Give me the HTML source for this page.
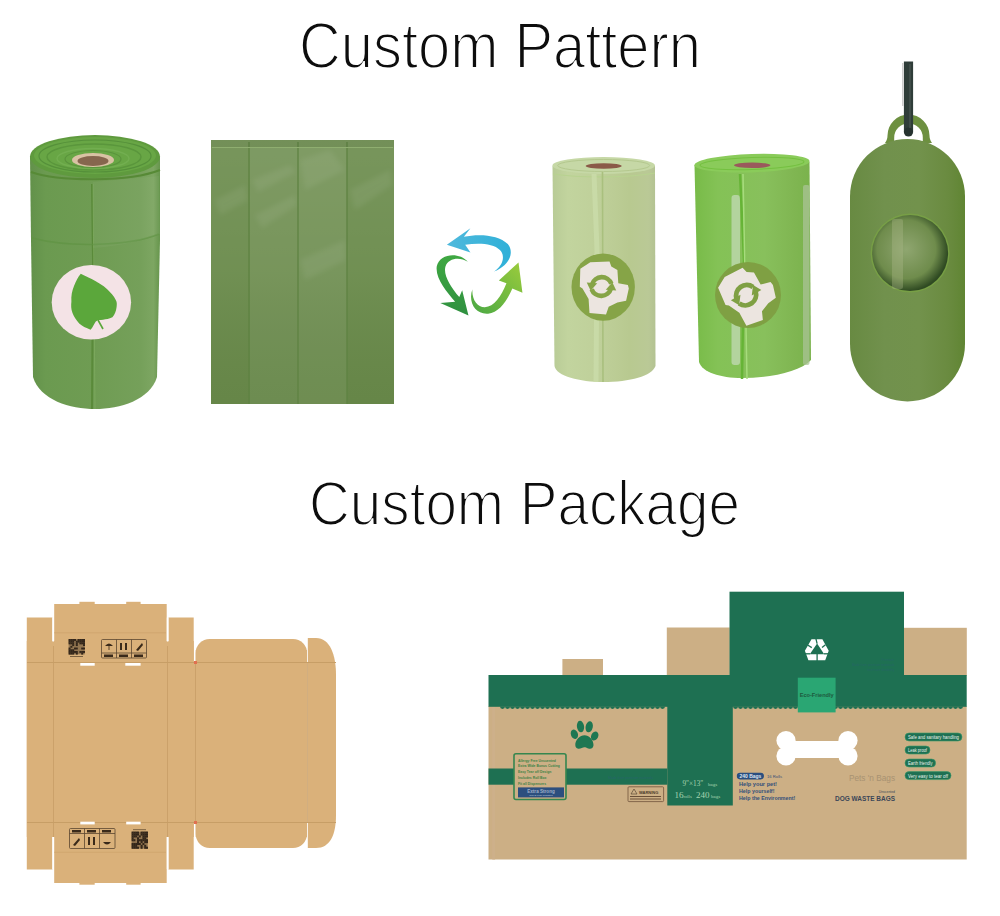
<!DOCTYPE html>
<html><head><meta charset="utf-8">
<style>
html,body{margin:0;padding:0;background:#fff;}
body{width:1000px;height:916px;overflow:hidden;position:relative;font-family:"Liberation Sans",sans-serif;}
svg{position:absolute;left:0;top:0;display:block;}
</style></head>
<body>
<svg width="1000" height="916" viewBox="0 0 1000 916" font-family="Liberation Sans, sans-serif">
<defs>
<linearGradient id="gb" x1="0" y1="0" x2="1" y2="0"><stop offset="0" stop-color="#4fb9dc"/><stop offset="1" stop-color="#2fb0d8"/></linearGradient>
<linearGradient id="gg1" x1="0" y1="0" x2="0" y2="1"><stop offset="0" stop-color="#3fa842"/><stop offset="1" stop-color="#2f9040"/></linearGradient>
<linearGradient id="gg2" x1="0" y1="1" x2="1" y2="0"><stop offset="0" stop-color="#49a844"/><stop offset="1" stop-color="#9ccc3c"/></linearGradient>
<linearGradient id="r1body" x1="0" y1="0" x2="1" y2="0">
<stop offset="0" stop-color="#62914a"/><stop offset="0.12" stop-color="#6b9a50"/><stop offset="0.5" stop-color="#6f9c53"/><stop offset="0.85" stop-color="#75a05a"/><stop offset="0.95" stop-color="#7da662"/><stop offset="1" stop-color="#66954c"/></linearGradient>
<linearGradient id="r2body" x1="0" y1="0" x2="1" y2="0">
<stop offset="0" stop-color="#b8cb96"/><stop offset="0.15" stop-color="#c2d49e"/><stop offset="0.45" stop-color="#bfd09a"/><stop offset="0.75" stop-color="#b8c990"/><stop offset="0.93" stop-color="#bac996"/><stop offset="1" stop-color="#b3c292"/></linearGradient>
<linearGradient id="r3body" x1="0" y1="0" x2="1" y2="0">
<stop offset="0" stop-color="#78bb48"/><stop offset="0.2" stop-color="#84c256"/><stop offset="0.6" stop-color="#88c05c"/><stop offset="0.85" stop-color="#80b652"/><stop offset="1" stop-color="#7ab24c"/></linearGradient>
<linearGradient id="dispg" x1="0" y1="0" x2="1" y2="0">
<stop offset="0" stop-color="#688a42"/><stop offset="0.3" stop-color="#71914d"/><stop offset="0.6" stop-color="#72924c"/><stop offset="0.85" stop-color="#6a8b40"/><stop offset="1" stop-color="#608533"/></linearGradient>
<radialGradient id="wing" cx="0.45" cy="0.45" r="0.55">
<stop offset="0" stop-color="#8fa670"/><stop offset="0.7" stop-color="#6f8c4c"/><stop offset="1" stop-color="#2f4a22"/></radialGradient>
</defs>

<!-- TITLES -->

<g fill="#0d0d0d" stroke="#fff" stroke-width="1.9">
<text x="299" y="68" font-size="64" textLength="402" lengthAdjust="spacingAndGlyphs">Custom Pattern</text>
<text x="309" y="525" font-size="63" textLength="431" lengthAdjust="spacingAndGlyphs">Custom Package</text>
</g>

<!-- ROLL 1 (dark green with leaf) -->
<g id="roll1">
<path d="M30 157 L31 240 L33 377 C40 400 70 409 95 409 C120 409 150 400 157 377 L160 240 L160 157 Z" fill="url(#r1body)"/>
<ellipse cx="95" cy="156.5" rx="65" ry="21.5" fill="#5f9a3e"/>
<ellipse cx="95" cy="155.5" rx="61" ry="18.5" fill="#68a645"/>
<ellipse cx="95" cy="156" rx="56" ry="16" fill="none" stroke="#55903a" stroke-width="1.2"/>
<ellipse cx="94" cy="157" rx="47" ry="13" fill="none" stroke="#5a963c" stroke-width="1.5"/>
<ellipse cx="93" cy="158.5" rx="36" ry="10" fill="none" stroke="#72ae50" stroke-width="1.5"/>
<ellipse cx="93" cy="159" rx="28" ry="8.5" fill="none" stroke="#5a943c" stroke-width="1.2"/>
<ellipse cx="93" cy="160" rx="21" ry="7" fill="#d9c2a4"/>
<ellipse cx="93" cy="161" rx="15.5" ry="5" fill="#86664e"/>
<path d="M31 172 C60 182 130 182 160 170" stroke="#578a36" stroke-width="2" fill="none"/>
<path d="M92 184 L93 260 L92 409" stroke="#5a8a3a" stroke-width="2" fill="none"/>
<path d="M93 184 L95 409" stroke="#84b064" stroke-width="1" fill="none" opacity="0.6"/>
<path d="M32 238 C70 248 130 246 159 234" stroke="#5f9343" stroke-width="1.5" fill="none" opacity="0.7"/>
<path d="M93 182 L159 176 L160 234 C130 244 110 247 93 248 Z" fill="#fff" opacity="0.04"/>
<ellipse cx="91.4" cy="302.2" rx="39.7" ry="37.3" fill="#f4e3e6"/>
<path d="M80.8 273.7 C85 276 88 277 91.7 278.9 C97 282 103 285 107.2 289.2 C111 293 114 296 115.5 299.6 C117 302 117 304 116.6 306.9 C116 311 115 314 112.4 317.2 C109 319 106 319 103.1 319.8 C100 320 98 320 95.8 321.4 C94 324 93 327 90.6 329.7 C86 328 82 326 79.2 323.5 C76 320 74 317 72.5 313.1 C71 309 71 305 71.4 301.7 C71 296 72 291 74 286.1 C76 281 78 277 80.8 273.7 Z" fill="#5ba73b"/>
<path d="M98 320 L103 329" stroke="#5aa63a" stroke-width="1.6"/>
</g>

<!-- BAG flat -->
<g id="bag">
<defs>
<filter id="blur2" x="-20%" y="-20%" width="140%" height="140%"><feGaussianBlur stdDeviation="2.5"/></filter>
<linearGradient id="bagv" x1="0" y1="0" x2="0" y2="1"><stop offset="0" stop-color="#fff" stop-opacity="0.10"/><stop offset="0.5" stop-color="#fff" stop-opacity="0.05"/><stop offset="1" stop-color="#000" stop-opacity="0.03"/></linearGradient>
</defs>
<rect x="211" y="140" width="183" height="264" fill="#698a4a"/>
<rect x="211" y="140" width="183" height="264" fill="url(#bagv)"/>
<rect x="250" y="148" width="48" height="256" fill="#fff" opacity="0.05"/>
<rect x="298" y="148" width="49" height="256" fill="#fff" opacity="0.06"/>
<g fill="#fff" opacity="0.06" filter="url(#blur2)">
<path d="M252 180 L290 165 L296 172 L258 192 Z"/>
<path d="M255 215 L295 195 L297 205 L262 228 Z"/>
<path d="M300 160 L330 150 L345 170 L305 190 Z"/>
<path d="M215 200 L245 185 L248 200 L220 215 Z"/>
<path d="M350 190 L390 170 L392 185 L355 210 Z"/>
<path d="M300 260 L345 240 L346 260 L305 280 Z"/>
</g>
<path d="M249 142 V404 M298 142 V404 M347 142 V404" stroke="#5f8342" stroke-width="1.3"/>
<path d="M212 147.5 H393" stroke="#8fae70" stroke-width="1"/>
<rect x="211" y="140" width="183" height="7" fill="#000" opacity="0.04"/>
</g>

<!-- RECYCLE ARROWS -->
<g id="recycle" transform="translate(420 210) scale(0.131)">
<path d="M205 265 L385 140 L335 205 C450 180 600 190 670 260 C720 320 690 420 565 470 C640 420 650 345 610 305 C560 255 450 250 345 265 L385 325 Z" fill="url(#gb)"/>
<path d="M365 395 C300 320 150 330 128 430 C115 520 200 620 268 700 L155 710 L370 805 L322 612 L300 665 C230 580 175 490 195 430 C215 370 300 355 365 395 Z" fill="url(#gg1)"/>
<path d="M400 605 C365 700 420 800 520 792 C600 785 660 700 705 600 L782 632 L752 400 L602 538 L660 560 C620 660 565 742 495 742 C435 742 395 680 400 605 Z" fill="url(#gg2)"/>
</g>

<!-- LIGHT ROLL -->
<g id="roll2">
<path d="M552.5 166 L554.5 366 C556 376 580 382 603 382 C630 382 652 376 655.5 366 L655 166 Z" fill="url(#r2body)"/>
<ellipse cx="603.7" cy="165.5" rx="51.3" ry="8.5" fill="#c6d8a6"/>
<ellipse cx="603.7" cy="165.5" rx="46" ry="6" fill="none" stroke="#b4c88e" stroke-width="1"/>
<ellipse cx="603.7" cy="166" rx="18" ry="2.8" fill="#8a5a48"/>
<path d="M553 174 C580 178 630 178 655 173" stroke="#b8d290" stroke-width="1.2" fill="none"/>
<path d="M594 174 L597 250 L596 382" stroke="#cadcaa" stroke-width="5" fill="none" opacity="0.8"/>
<path d="M602.5 172 L603 382" stroke="#a9c07e" stroke-width="1.6" fill="none"/>
<ellipse cx="603.2" cy="287.1" rx="31.7" ry="33.6" fill="#86a447"/>
<path d="M580.3 268.8 L590.3 262.2 L609.5 261.4 L611.3 266.6 L617.4 270.1 L618.3 283.2 L627.9 284.9 L628.8 288.4 L626.1 300.7 L617.4 302.4 L608.7 306.8 L606 314.6 L589.5 312.9 L588.6 298.9 L582.5 288.4 L579.8 286.7 Z" fill="#ece5e0"/>
<g transform="translate(601.5 286.5) rotate(4)" fill="#86a447">
<path d="M-9.6 -1.5 A10.2 10.2 0 0 1 9.6 -3.5" stroke="#86a447" stroke-width="4.6" fill="none"/>
<path d="M-15 -3 L-4.5 -3 L-10.5 5 Z"/>
<path d="M9.6 1.5 A10.2 10.2 0 0 1 -9.6 3.5" stroke="#86a447" stroke-width="4.6" fill="none"/>
<path d="M4.5 3 L15 3 L10.5 -5 Z"/>
</g>
</g>

<!-- MEDIUM ROLL -->
<g id="roll3">
<path d="M694.5 165 L699 362 C702 372 720 378 742 378 C770 378 800 372 811 360 L809.5 162 Z" fill="url(#r3body)"/>
<ellipse cx="752" cy="163.2" rx="57.6" ry="9.2" fill="#8acb5a" transform="rotate(-2 752 163.2)"/>
<ellipse cx="752" cy="163.5" rx="52" ry="6" fill="none" stroke="#74c040" stroke-width="1" transform="rotate(-2 752 163.2)"/>
<ellipse cx="752.2" cy="165.3" rx="18.2" ry="2.8" fill="#9a5a5c"/>
<rect x="731.5" y="195" width="8.5" height="170" rx="3" fill="#c6dcbc" opacity="0.7"/>
<rect x="803" y="185" width="6.5" height="180" rx="2" fill="#aac396" opacity="0.75"/>
<path d="M740 174 L744 260 L742 379" stroke="#66b436" stroke-width="2.5" fill="none"/>
<path d="M743 174 L747 379" stroke="#a6dc7c" stroke-width="1.5" fill="none"/>
<ellipse cx="748" cy="295" rx="33" ry="33" fill="#7fa043"/>
<g transform="translate(748 295) rotate(-25) scale(1.05) translate(-603.2 -287.1)">
<path d="M580.3 268.8 L590.3 262.2 L609.5 261.4 L611.3 266.6 L617.4 270.1 L618.3 283.2 L627.9 284.9 L628.8 288.4 L626.1 300.7 L617.4 302.4 L608.7 306.8 L606 314.6 L589.5 312.9 L588.6 298.9 L582.5 288.4 L579.8 286.7 Z" fill="#ece5e0"/>
<g transform="translate(601.5 286.5) rotate(-5)" fill="#7fa043">
<path d="M-9.6 -1.5 A10.2 10.2 0 0 1 9.6 -3.5" stroke="#7fa043" stroke-width="4.6" fill="none"/>
<path d="M-15 -3 L-4.5 -3 L-10.5 5 Z"/>
<path d="M9.6 1.5 A10.2 10.2 0 0 1 -9.6 3.5" stroke="#7fa043" stroke-width="4.6" fill="none"/>
<path d="M4.5 3 L15 3 L10.5 -5 Z"/>
</g>
</g>
</g>

<!-- DISPENSER -->
<g id="disp">
<path d="M885 143 C887 140 887.5 138 887.5 135.5 A21 21 0 0 1 929.5 135.5 C929.5 138 930 140 932 143 Z M894.2 141 L894.2 137.7 A14.3 14.3 0 0 1 922.8 137.7 L922.8 141 Z" fill="#6d9040" fill-rule="evenodd"/>
<path d="M908.5 61.5 L908.5 132" stroke="#2f3d39" stroke-width="9.2"/><circle cx="908.5" cy="132" r="4.6" fill="#263330"/><path d="M910 64 L910 128" stroke="#56625e" stroke-width="1.2" opacity="0.7"/>
<path d="M902.8 63 L902.8 106" stroke="#cfcfcf" stroke-width="1.6"/>
<rect x="850" y="139" width="115" height="262.5" rx="57.5" ry="57.5" fill="url(#dispg)"/>
<circle cx="910.1" cy="253.1" r="39.5" fill="#79a345" opacity="0.8"/>
<circle cx="910.1" cy="253.1" r="38" fill="url(#wing)"/>
<rect x="892" y="219" width="11" height="70" rx="2" fill="#aebb8c" opacity="0.35"/>
</g>

<!-- BOX NET 1 (kraft) -->
<g id="box1">
<g fill="#dab17a">
<rect x="26.8" y="617.5" width="25.6" height="252"/>
<rect x="54.2" y="604" width="112.5" height="279"/>
<rect x="79.4" y="601.8" width="15.3" height="3"/>
<rect x="126.2" y="601.8" width="14.4" height="3"/>
<rect x="79.4" y="882" width="15.3" height="2.7"/>
<rect x="126.2" y="882" width="14.4" height="2.7"/>
<rect x="168.5" y="617.5" width="25.2" height="252"/>
<rect x="26.8" y="641" width="167" height="196"/>
<rect x="193" y="663" width="3.5" height="159.5"/>
<rect x="195.7" y="639" width="111.3" height="209" rx="14"/>
<rect x="195.7" y="650" width="111.3" height="187"/>
<path d="M307.8 638 H316 C330 638 336 655 336 675 V815 C336 835 330 848 316 848 H307.8 Z"/>
</g>
<g stroke="#c79e66" stroke-width="1" fill="none">
<path d="M27 662.5 H336"/>
<path d="M27 822.5 H336"/>
<path d="M54 632.8 H166" opacity="0.5"/>
<path d="M54 852.3 H166" opacity="0.5"/>
<path d="M53.5 646 V862" opacity="0.8"/>
<path d="M167.5 646 V862" opacity="0.8"/>
<path d="M195.5 662 V823" opacity="0.8"/>
<path d="M307.5 662 V823" opacity="0.8"/>
</g>
<g fill="#fff">
<rect x="80.3" y="663" width="14.4" height="2.7"/>
<rect x="125.3" y="663" width="15.3" height="2.7"/>
<rect x="80.3" y="821.7" width="14.4" height="2.7"/>
<rect x="126.2" y="821.7" width="14.4" height="2.7"/>
<rect x="52.4" y="604" width="1.6" height="13.5" fill="none"/><rect x="52.4" y="617.5" width="1.6" height="24"/>
<rect x="166.8" y="617.5" width="1.6" height="24"/>
<rect x="52.4" y="837" width="1.6" height="32"/>
<rect x="166.8" y="837" width="1.6" height="32"/>
</g>
<!-- QR top -->
<rect x="68.6" y="639" width="16.2" height="15.4" fill="#5a4630" opacity="0.55"/>
<rect x="68.60" y="639.00" width="2.00" height="1.91" fill="#33261a"/>
<rect x="68.60" y="640.71" width="2.00" height="1.91" fill="#33261a"/>
<rect x="68.60" y="642.42" width="2.00" height="1.91" fill="#33261a"/>
<rect x="68.60" y="647.56" width="2.00" height="1.91" fill="#33261a"/>
<rect x="68.60" y="649.27" width="2.00" height="1.91" fill="#33261a"/>
<rect x="68.60" y="650.98" width="2.00" height="1.91" fill="#33261a"/>
<rect x="68.60" y="652.69" width="2.00" height="1.91" fill="#33261a"/>
<rect x="70.40" y="639.00" width="2.00" height="1.91" fill="#33261a"/>
<rect x="70.40" y="640.71" width="2.00" height="1.91" fill="#33261a"/>
<rect x="70.40" y="642.42" width="2.00" height="1.91" fill="#33261a"/>
<rect x="70.40" y="645.84" width="2.00" height="1.91" fill="#33261a"/>
<rect x="70.40" y="649.27" width="2.00" height="1.91" fill="#33261a"/>
<rect x="70.40" y="650.98" width="2.00" height="1.91" fill="#33261a"/>
<rect x="70.40" y="652.69" width="2.00" height="1.91" fill="#33261a"/>
<rect x="72.20" y="639.00" width="2.00" height="1.91" fill="#33261a"/>
<rect x="72.20" y="640.71" width="2.00" height="1.91" fill="#33261a"/>
<rect x="72.20" y="642.42" width="2.00" height="1.91" fill="#33261a"/>
<rect x="72.20" y="644.13" width="2.00" height="1.91" fill="#33261a"/>
<rect x="72.20" y="649.27" width="2.00" height="1.91" fill="#33261a"/>
<rect x="72.20" y="650.98" width="2.00" height="1.91" fill="#33261a"/>
<rect x="72.20" y="652.69" width="2.00" height="1.91" fill="#33261a"/>
<rect x="74.00" y="639.00" width="2.00" height="1.91" fill="#33261a"/>
<rect x="74.00" y="647.56" width="2.00" height="1.91" fill="#33261a"/>
<rect x="74.00" y="650.98" width="2.00" height="1.91" fill="#33261a"/>
<rect x="75.80" y="640.71" width="2.00" height="1.91" fill="#33261a"/>
<rect x="75.80" y="642.42" width="2.00" height="1.91" fill="#33261a"/>
<rect x="75.80" y="644.13" width="2.00" height="1.91" fill="#33261a"/>
<rect x="75.80" y="647.56" width="2.00" height="1.91" fill="#33261a"/>
<rect x="75.80" y="650.98" width="2.00" height="1.91" fill="#33261a"/>
<rect x="75.80" y="652.69" width="2.00" height="1.91" fill="#33261a"/>
<rect x="77.60" y="639.00" width="2.00" height="1.91" fill="#33261a"/>
<rect x="77.60" y="640.71" width="2.00" height="1.91" fill="#33261a"/>
<rect x="79.40" y="639.00" width="2.00" height="1.91" fill="#33261a"/>
<rect x="79.40" y="640.71" width="2.00" height="1.91" fill="#33261a"/>
<rect x="79.40" y="642.42" width="2.00" height="1.91" fill="#33261a"/>
<rect x="79.40" y="650.98" width="2.00" height="1.91" fill="#33261a"/>
<rect x="81.20" y="639.00" width="2.00" height="1.91" fill="#33261a"/>
<rect x="81.20" y="640.71" width="2.00" height="1.91" fill="#33261a"/>
<rect x="81.20" y="642.42" width="2.00" height="1.91" fill="#33261a"/>
<rect x="81.20" y="647.56" width="2.00" height="1.91" fill="#33261a"/>
<rect x="81.20" y="650.98" width="2.00" height="1.91" fill="#33261a"/>
<rect x="81.20" y="652.69" width="2.00" height="1.91" fill="#33261a"/>
<rect x="83.00" y="639.00" width="2.00" height="1.91" fill="#33261a"/>
<rect x="83.00" y="640.71" width="2.00" height="1.91" fill="#33261a"/>
<rect x="83.00" y="642.42" width="2.00" height="1.91" fill="#33261a"/>
<rect x="83.00" y="644.13" width="2.00" height="1.91" fill="#33261a"/>
<rect x="83.00" y="647.56" width="2.00" height="1.91" fill="#33261a"/>
<rect x="83.00" y="650.98" width="2.00" height="1.91" fill="#33261a"/>
<rect x="131.6" y="831.6" width="16.2" height="17" fill="#5a4630" opacity="0.55"/>
<rect x="131.60" y="831.60" width="2.00" height="2.09" fill="#33261a"/>
<rect x="131.60" y="833.49" width="2.00" height="2.09" fill="#33261a"/>
<rect x="131.60" y="835.38" width="2.00" height="2.09" fill="#33261a"/>
<rect x="131.60" y="837.27" width="2.00" height="2.09" fill="#33261a"/>
<rect x="131.60" y="839.16" width="2.00" height="2.09" fill="#33261a"/>
<rect x="131.60" y="842.93" width="2.00" height="2.09" fill="#33261a"/>
<rect x="131.60" y="844.82" width="2.00" height="2.09" fill="#33261a"/>
<rect x="131.60" y="846.71" width="2.00" height="2.09" fill="#33261a"/>
<rect x="133.40" y="831.60" width="2.00" height="2.09" fill="#33261a"/>
<rect x="133.40" y="833.49" width="2.00" height="2.09" fill="#33261a"/>
<rect x="133.40" y="835.38" width="2.00" height="2.09" fill="#33261a"/>
<rect x="133.40" y="839.16" width="2.00" height="2.09" fill="#33261a"/>
<rect x="133.40" y="842.93" width="2.00" height="2.09" fill="#33261a"/>
<rect x="133.40" y="844.82" width="2.00" height="2.09" fill="#33261a"/>
<rect x="133.40" y="846.71" width="2.00" height="2.09" fill="#33261a"/>
<rect x="135.20" y="831.60" width="2.00" height="2.09" fill="#33261a"/>
<rect x="135.20" y="833.49" width="2.00" height="2.09" fill="#33261a"/>
<rect x="135.20" y="835.38" width="2.00" height="2.09" fill="#33261a"/>
<rect x="135.20" y="842.93" width="2.00" height="2.09" fill="#33261a"/>
<rect x="135.20" y="844.82" width="2.00" height="2.09" fill="#33261a"/>
<rect x="135.20" y="846.71" width="2.00" height="2.09" fill="#33261a"/>
<rect x="137.00" y="831.60" width="2.00" height="2.09" fill="#33261a"/>
<rect x="137.00" y="833.49" width="2.00" height="2.09" fill="#33261a"/>
<rect x="137.00" y="837.27" width="2.00" height="2.09" fill="#33261a"/>
<rect x="137.00" y="839.16" width="2.00" height="2.09" fill="#33261a"/>
<rect x="137.00" y="841.04" width="2.00" height="2.09" fill="#33261a"/>
<rect x="137.00" y="842.93" width="2.00" height="2.09" fill="#33261a"/>
<rect x="137.00" y="846.71" width="2.00" height="2.09" fill="#33261a"/>
<rect x="138.80" y="835.38" width="2.00" height="2.09" fill="#33261a"/>
<rect x="138.80" y="839.16" width="2.00" height="2.09" fill="#33261a"/>
<rect x="138.80" y="842.93" width="2.00" height="2.09" fill="#33261a"/>
<rect x="140.60" y="831.60" width="2.00" height="2.09" fill="#33261a"/>
<rect x="140.60" y="833.49" width="2.00" height="2.09" fill="#33261a"/>
<rect x="140.60" y="839.16" width="2.00" height="2.09" fill="#33261a"/>
<rect x="140.60" y="841.04" width="2.00" height="2.09" fill="#33261a"/>
<rect x="140.60" y="844.82" width="2.00" height="2.09" fill="#33261a"/>
<rect x="140.60" y="846.71" width="2.00" height="2.09" fill="#33261a"/>
<rect x="142.40" y="831.60" width="2.00" height="2.09" fill="#33261a"/>
<rect x="142.40" y="833.49" width="2.00" height="2.09" fill="#33261a"/>
<rect x="142.40" y="835.38" width="2.00" height="2.09" fill="#33261a"/>
<rect x="142.40" y="837.27" width="2.00" height="2.09" fill="#33261a"/>
<rect x="142.40" y="839.16" width="2.00" height="2.09" fill="#33261a"/>
<rect x="142.40" y="842.93" width="2.00" height="2.09" fill="#33261a"/>
<rect x="144.20" y="831.60" width="2.00" height="2.09" fill="#33261a"/>
<rect x="144.20" y="833.49" width="2.00" height="2.09" fill="#33261a"/>
<rect x="144.20" y="835.38" width="2.00" height="2.09" fill="#33261a"/>
<rect x="144.20" y="837.27" width="2.00" height="2.09" fill="#33261a"/>
<rect x="144.20" y="839.16" width="2.00" height="2.09" fill="#33261a"/>
<rect x="144.20" y="841.04" width="2.00" height="2.09" fill="#33261a"/>
<rect x="144.20" y="844.82" width="2.00" height="2.09" fill="#33261a"/>
<rect x="144.20" y="846.71" width="2.00" height="2.09" fill="#33261a"/>
<rect x="146.00" y="831.60" width="2.00" height="2.09" fill="#33261a"/>
<rect x="146.00" y="833.49" width="2.00" height="2.09" fill="#33261a"/>
<rect x="146.00" y="835.38" width="2.00" height="2.09" fill="#33261a"/>
<rect x="146.00" y="839.16" width="2.00" height="2.09" fill="#33261a"/>
<rect x="146.00" y="841.04" width="2.00" height="2.09" fill="#33261a"/>
<rect x="146.00" y="846.71" width="2.00" height="2.09" fill="#33261a"/>
<rect x="70" y="656" width="13" height="1" fill="#7a6040"/><rect x="133" y="829.2" width="13" height="1" fill="#7a6040"/>
<g fill="none" stroke="#5a4630" stroke-width="0.8">
<rect x="101.5" y="639.5" width="45" height="18.5" rx="1"/>
<path d="M116.5 639.5 V658 M131.5 639.5 V658 M101.5 653 H146.5"/>
<rect x="69.5" y="828.5" width="45.5" height="20" rx="1"/>
<path d="M84.5 828.5 V848.5 M99.5 828.5 V848.5 M69.5 833.5 H115"/>
</g>
<g fill="#3a2a1a">
<path d="M105 646 Q109 641 113 646 Z"/><rect x="108.6" y="646" width="0.8" height="4"/>
<rect x="120" y="643" width="2" height="7"/><rect x="125" y="643" width="2" height="7"/>
<path d="M136 650 L142 643 L143 645 L138 651 Z"/>
<rect x="104" y="654.5" width="9" height="2.5"/><rect x="119" y="654.5" width="9" height="2.5"/><rect x="134" y="654.5" width="9" height="2.5"/>
<path d="M73 845 L79 838 L80 840 L75 846 Z"/>
<rect x="88" y="837" width="2" height="8"/><rect x="93" y="837" width="2" height="8"/>
<path d="M103 842 Q107 847 111 842 Z"/>
<rect x="72" y="830" width="9" height="2.5"/><rect x="87" y="830" width="9" height="2.5"/><rect x="102" y="830" width="9" height="2.5"/>
</g>
<g fill="#e07050">
<rect x="194" y="661" width="3" height="3"/><rect x="194" y="821" width="3" height="3"/>
</g>
</g>

<!-- BOX NET 2 (green) -->
<g id="box2">
<g fill="#ccaf85">
<rect x="488.5" y="706" width="478.2" height="153.5"/>
<rect x="492.3" y="707" width="2.8" height="152.5" fill="#cdb08a"/>
<rect x="562.4" y="659" width="40.6" height="17"/>
<rect x="666.8" y="627.5" width="63" height="48"/>
<rect x="903.8" y="627.8" width="63" height="48"/>
</g>
<g fill="#1e7052">
<rect x="729.5" y="591.7" width="174.5" height="84"/>
<rect x="488.5" y="675" width="478.2" height="31.8"/>
<rect x="667.3" y="706" width="65.5" height="99.5"/>
<rect x="488.5" y="768.5" width="178.8" height="16.2"/>
</g>
<path d="M500.0 706.5 a2.50 2.4 0 0 0 5.00 0 Z M505.0 706.5 a2.50 2.4 0 0 0 5.00 0 Z M510.0 706.5 a2.50 2.4 0 0 0 5.00 0 Z M515.0 706.5 a2.50 2.4 0 0 0 5.00 0 Z M520.0 706.5 a2.50 2.4 0 0 0 5.00 0 Z M525.0 706.5 a2.50 2.4 0 0 0 5.00 0 Z M530.0 706.5 a2.50 2.4 0 0 0 5.00 0 Z M535.0 706.5 a2.50 2.4 0 0 0 5.00 0 Z M540.0 706.5 a2.50 2.4 0 0 0 5.00 0 Z M545.0 706.5 a2.50 2.4 0 0 0 5.00 0 Z M550.0 706.5 a2.50 2.4 0 0 0 5.00 0 Z M555.0 706.5 a2.50 2.4 0 0 0 5.00 0 Z M560.0 706.5 a2.50 2.4 0 0 0 5.00 0 Z M565.0 706.5 a2.50 2.4 0 0 0 5.00 0 Z M570.0 706.5 a2.50 2.4 0 0 0 5.00 0 Z M575.0 706.5 a2.50 2.4 0 0 0 5.00 0 Z M580.0 706.5 a2.50 2.4 0 0 0 5.00 0 Z M585.0 706.5 a2.50 2.4 0 0 0 5.00 0 Z M590.0 706.5 a2.50 2.4 0 0 0 5.00 0 Z M595.0 706.5 a2.50 2.4 0 0 0 5.00 0 Z M600.0 706.5 a2.50 2.4 0 0 0 5.00 0 Z M605.0 706.5 a2.50 2.4 0 0 0 5.00 0 Z M610.0 706.5 a2.50 2.4 0 0 0 5.00 0 Z M615.0 706.5 a2.50 2.4 0 0 0 5.00 0 Z M620.0 706.5 a2.50 2.4 0 0 0 5.00 0 Z M625.0 706.5 a2.50 2.4 0 0 0 5.00 0 Z M630.0 706.5 a2.50 2.4 0 0 0 5.00 0 Z M635.0 706.5 a2.50 2.4 0 0 0 5.00 0 Z M640.0 706.5 a2.50 2.4 0 0 0 5.00 0 Z M645.0 706.5 a2.50 2.4 0 0 0 5.00 0 Z M650.0 706.5 a2.50 2.4 0 0 0 5.00 0 Z M655.0 706.5 a2.50 2.4 0 0 0 5.00 0 Z M660.0 706.5 a2.50 2.4 0 0 0 5.00 0 Z M733.0 706.5 a2.50 2.4 0 0 0 5.00 0 Z M738.0 706.5 a2.50 2.4 0 0 0 5.00 0 Z M743.0 706.5 a2.50 2.4 0 0 0 5.00 0 Z M748.0 706.5 a2.50 2.4 0 0 0 5.00 0 Z M753.0 706.5 a2.50 2.4 0 0 0 5.00 0 Z M758.0 706.5 a2.50 2.4 0 0 0 5.00 0 Z M763.0 706.5 a2.50 2.4 0 0 0 5.00 0 Z M768.0 706.5 a2.50 2.4 0 0 0 5.00 0 Z M773.0 706.5 a2.50 2.4 0 0 0 5.00 0 Z M778.0 706.5 a2.50 2.4 0 0 0 5.00 0 Z M783.0 706.5 a2.50 2.4 0 0 0 5.00 0 Z M788.0 706.5 a2.50 2.4 0 0 0 5.00 0 Z M793.0 706.5 a2.50 2.4 0 0 0 5.00 0 Z M798.0 706.5 a2.50 2.4 0 0 0 5.00 0 Z M803.0 706.5 a2.50 2.4 0 0 0 5.00 0 Z M808.0 706.5 a2.50 2.4 0 0 0 5.00 0 Z M813.0 706.5 a2.50 2.4 0 0 0 5.00 0 Z M818.0 706.5 a2.50 2.4 0 0 0 5.00 0 Z M823.0 706.5 a2.50 2.4 0 0 0 5.00 0 Z M828.0 706.5 a2.50 2.4 0 0 0 5.00 0 Z M833.0 706.5 a2.50 2.4 0 0 0 5.00 0 Z M838.0 706.5 a2.50 2.4 0 0 0 5.00 0 Z M843.0 706.5 a2.50 2.4 0 0 0 5.00 0 Z M848.0 706.5 a2.50 2.4 0 0 0 5.00 0 Z M853.0 706.5 a2.50 2.4 0 0 0 5.00 0 Z M858.0 706.5 a2.50 2.4 0 0 0 5.00 0 Z M863.0 706.5 a2.50 2.4 0 0 0 5.00 0 Z M868.0 706.5 a2.50 2.4 0 0 0 5.00 0 Z M873.0 706.5 a2.50 2.4 0 0 0 5.00 0 Z M878.0 706.5 a2.50 2.4 0 0 0 5.00 0 Z M883.0 706.5 a2.50 2.4 0 0 0 5.00 0 Z M888.0 706.5 a2.50 2.4 0 0 0 5.00 0 Z M893.0 706.5 a2.50 2.4 0 0 0 5.00 0 Z M898.0 706.5 a2.50 2.4 0 0 0 5.00 0 Z M903.0 706.5 a2.50 2.4 0 0 0 5.00 0 Z M908.0 706.5 a2.50 2.4 0 0 0 5.00 0 Z M913.0 706.5 a2.50 2.4 0 0 0 5.00 0 Z M918.0 706.5 a2.50 2.4 0 0 0 5.00 0 Z M923.0 706.5 a2.50 2.4 0 0 0 5.00 0 Z M928.0 706.5 a2.50 2.4 0 0 0 5.00 0 Z M933.0 706.5 a2.50 2.4 0 0 0 5.00 0 Z M938.0 706.5 a2.50 2.4 0 0 0 5.00 0 Z M943.0 706.5 a2.50 2.4 0 0 0 5.00 0 Z M948.0 706.5 a2.50 2.4 0 0 0 5.00 0 Z M953.0 706.5 a2.50 2.4 0 0 0 5.00 0 Z M958.0 706.5 a2.50 2.4 0 0 0 5.00 0 Z" fill="#1e7052"/>
<rect x="797.8" y="677.7" width="37.8" height="34.7" fill="#2aa673"/>
<text x="816.7" y="697" font-size="5.6" fill="#1d5a3e" text-anchor="middle" font-weight="bold">Eco-Friendly</text>
<!-- recycle symbol -->
<path d="M811.5 639.2 L822.4 639.2 L828.7 650.8 L825.2 660.2 L808.4 660.2 L804.9 650.8 Z M817.1 643.6 L809.8 654.2 L824.2 654.2 Z" fill="#fff" fill-rule="evenodd"/>
<g stroke="#1e7052" stroke-width="1.3">
<path d="M815.9 638.5 L817.1 643.6"/><path d="M817.1 654 V661"/>
<path d="M807.6 645 L811.8 647.6"/><path d="M825.5 644.8 L822 647.6"/>
<path d="M804.5 653.8 L810 653.8"/><path d="M824 653.8 L829 653.8"/>
</g>
<g fill="#2a6070" font-size="3.2" opacity="0.6">
<text x="894" y="661" text-anchor="end">Premium</text>
<text x="894" y="666" text-anchor="end">Made from premium materials</text>
<text x="894" y="671" text-anchor="end">to ensure durability</text>
</g>
<!-- paw -->
<g fill="#1e7752">
<path d="M575.3 745 C575 740 580 735.3 584.5 735.2 C589 735.3 593.8 740 593.5 745.3 C593.2 748.8 590.5 749 588.2 748.4 C586.3 747.8 585.3 747.2 584.3 747.3 C582.8 747.6 580.5 748.9 578.3 748.7 C576.3 748.4 575.4 747 575.3 745 Z"/>
<ellipse cx="574.4" cy="734.2" rx="3.5" ry="4.8" transform="rotate(-20 574.4 734.2)"/>
<ellipse cx="580.5" cy="726.6" rx="3.6" ry="5.8" transform="rotate(-8 580.5 726.6)"/>
<ellipse cx="589.2" cy="726.8" rx="3.6" ry="5.6" transform="rotate(12 589.2 726.8)"/>
<ellipse cx="594.7" cy="736" rx="3.5" ry="4.8" transform="rotate(25 594.7 736)"/>
</g>
<!-- info box -->
<rect x="514" y="753.7" width="52" height="45.8" rx="2" fill="#ccaf85" stroke="#35864f" stroke-width="1.6"/>
<g fill="#3d8247" font-size="3.4" font-weight="bold">
<text x="518" y="761.5">Allergy Free Unscented</text>
<text x="518" y="767.3">Extra Wide Bonus Cutting</text>
<text x="518" y="773.2">Easy Tear off Design</text>
<text x="518" y="779">Includes Roll Box</text>
<text x="518" y="784.8">Fit all Dispensers</text>
</g>
<rect x="518" y="787.4" width="46" height="10" fill="#2d4f7e"/>
<text x="541" y="793" font-size="4.6" fill="#9fb0c8" text-anchor="middle" font-weight="bold">Extra Strong</text>
<text x="541" y="796.3" font-size="2.4" fill="#bcd" text-anchor="middle">Tear &amp; Leak Resistant</text>
<g fill="#2c5f7a" font-size="3.4" opacity="0.55"><text x="608" y="779">Made from premium materials</text></g>
<!-- warning -->
<rect x="628" y="786.8" width="35.6" height="14.8" rx="1" fill="none" stroke="#7a5e44" stroke-width="0.9"/>
<path d="M634 789 L637 794 L631 794 Z" fill="none" stroke="#4a3a2a" stroke-width="0.6"/>
<text x="639" y="793.5" font-size="4" font-weight="bold" fill="#4a3a2a">WARNING</text>
<rect x="630" y="796" width="31" height="1" fill="#6a5038"/>
<rect x="630" y="798.5" width="31" height="1" fill="#6a5038"/>
<!-- column texts -->
<text x="682.5" y="786" font-size="7.2" fill="#a6d4b0" font-family="Liberation Serif, serif">9"×13"</text>
<text x="708" y="786" font-size="5" fill="#a6d4b0" font-family="Liberation Serif, serif">bags</text>
<text x="674.5" y="798" font-size="9" fill="#a6d4b0" font-family="Liberation Serif, serif">16</text>
<text x="683.5" y="798" font-size="4.6" fill="#a6d4b0" font-family="Liberation Serif, serif">rolls</text>
<text x="696" y="798" font-size="9" fill="#a6d4b0" font-family="Liberation Serif, serif">240</text>
<text x="711" y="798" font-size="5" fill="#a6d4b0" font-family="Liberation Serif, serif">bags</text>
<!-- help texts -->
<rect x="736.8" y="772.8" width="27.2" height="6.6" rx="3.3" fill="#2a4e80"/>
<text x="750.4" y="778" font-size="5" fill="#dfe6f0" text-anchor="middle" font-weight="bold">240 Bags</text>
<text x="767" y="778" font-size="4.2" fill="#3a5078">16 Rolls</text>
<g fill="#34507a" font-size="5" font-weight="bold">
<text x="739" y="786" textLength="38" lengthAdjust="spacingAndGlyphs">Help your pet!</text>
<text x="739" y="793.2" textLength="35.4" lengthAdjust="spacingAndGlyphs">Help yourself!</text>
<text x="739" y="800" textLength="56.2" lengthAdjust="spacingAndGlyphs">Help the Environment!</text>
</g>
<!-- bone -->
<g fill="#fff">
<circle cx="786" cy="740.5" r="9.6"/><circle cx="786" cy="756" r="9.6"/>
<circle cx="848" cy="740.5" r="9.6"/><circle cx="848" cy="756" r="9.6"/>
<rect x="786" y="741" width="62" height="17"/>
</g>
<!-- pills -->
<g fill="#1e7052" stroke="#3a9a6a" stroke-width="0.6">
<rect x="905" y="733" width="57" height="8" rx="4"/>
<rect x="905" y="746" width="25" height="8" rx="4"/>
<rect x="905" y="759" width="30.6" height="8" rx="4"/>
<rect x="905" y="771.6" width="46" height="8" rx="4"/>
</g>
<g fill="#e8f2ea" font-size="4.6">
<text x="908" y="739" textLength="51" lengthAdjust="spacingAndGlyphs">Safe and sanitary handling</text>
<text x="908" y="752" textLength="19" lengthAdjust="spacingAndGlyphs">Leak proof</text>
<text x="908" y="765" textLength="24.6" lengthAdjust="spacingAndGlyphs">Earth friendly</text>
<text x="908" y="777.6" textLength="40" lengthAdjust="spacingAndGlyphs">Very easy to tear off</text>
</g>
<text x="849" y="781" font-size="8.6" fill="#a89272" textLength="46" lengthAdjust="spacingAndGlyphs">Pets 'n Bags</text>
<text x="895" y="793" font-size="3.4" fill="#3b4a5a" text-anchor="end">Unscented</text>
<text x="835" y="800.5" font-size="7.4" fill="#3b4658" font-weight="bold" textLength="60" lengthAdjust="spacingAndGlyphs">DOG WASTE BAGS</text>
</g>
</svg>
</body></html>
